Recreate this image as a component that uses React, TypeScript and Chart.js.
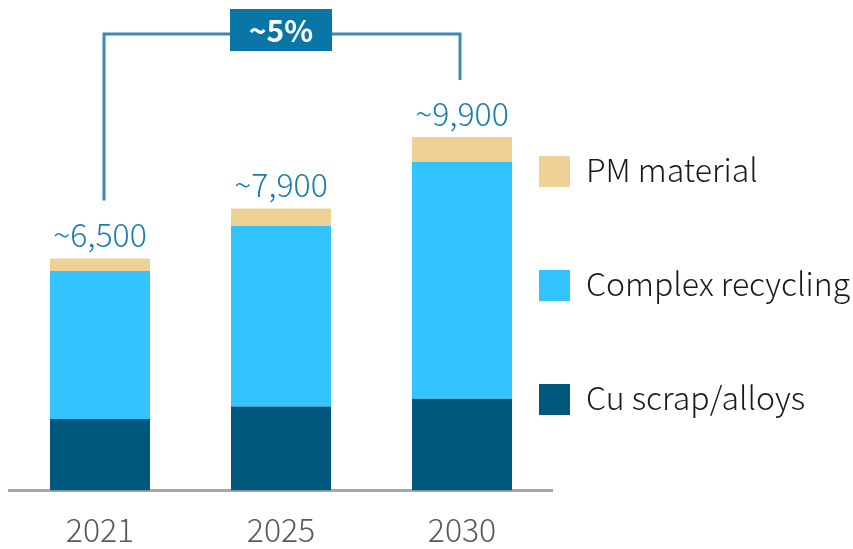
import React, { useEffect, useRef } from "react";
import { Chart, registerables } from "chart.js";

Chart.register(...registerables);

const categories = ["2021", "2025", "2030"];
const cuScrap = [2000, 2350, 2570];
const complexRecycling = [4150, 5060, 6630];
const pmMaterial = [350, 490, 700];
const totalLabels = ["~6,500", "~7,900", "~9,900"];
const cagrLabel = "~5%";

const seriesNames = ["Cu scrap/alloys", "Complex recycling", "PM material"];
const seriesColors = ["#00587C", "#33C3FF", "#EDD195"];

const FONT = '"Noto Sans CJK JP", "Noto Sans", sans-serif';

const overlayPlugin = {
  id: "overlay",
  afterDatasetsDraw(chart: any) {
    const ctx = chart.ctx as CanvasRenderingContext2D;
    const topMeta = chart.getDatasetMeta(2);
    const bars = topMeta.data;
    ctx.save();
    // totals
    ctx.font = `300 32px ${FONT}`;
    ctx.fillStyle = "#1A7DAC";
    ctx.textAlign = "center";
    ctx.textBaseline = "alphabetic";
    bars.forEach((b: any, i: number) => {
      ctx.fillText(totalLabels[i], b.x, b.y - 11);
    });
    // bracket
    const first = bars[0];
    const last = bars[bars.length - 1];
    const mid = bars[1];
    const lx = first.x + 4;
    const rx = last.x - 2;
    const topY = 34;
    ctx.strokeStyle = "#3E88B1";
    ctx.lineWidth = 3;
    ctx.beginPath();
    ctx.moveTo(lx, first.y - 58);
    ctx.lineTo(lx, topY);
    ctx.lineTo(rx, topY);
    ctx.lineTo(rx, last.y - 57);
    ctx.stroke();
    // box
    const bw = 102;
    const bh = 42;
    ctx.fillStyle = "#0A76A8";
    ctx.fillRect(mid.x - bw / 2, topY - 25, bw, bh);
    ctx.fillStyle = "#FFFFFF";
    ctx.font = `bold 30px ${FONT}`;
    ctx.textBaseline = "middle";
    ctx.fillText(cagrLabel, mid.x, topY - 25 + bh / 2 + 1);
    // legend
    const legendX = 539;
    const legendYs = [156, 270, 384];
    const order = [2, 1, 0];
    ctx.textAlign = "left";
    ctx.textBaseline = "alphabetic";
    ctx.font = `300 32px ${FONT}`;
    order.forEach((di, k) => {
      const y = legendYs[k];
      ctx.fillStyle = seriesColors[di];
      ctx.fillRect(legendX, y, 31, 31);
      ctx.fillStyle = "#1A1A1A";
      ctx.fillText(seriesNames[di], 586, y + 26);
    });
    ctx.restore();
  },
};

export default function App() {
  const ref = useRef<HTMLCanvasElement>(null);
  useEffect(() => {
    if (!ref.current) return;
    const chart = new Chart(ref.current, {
      type: "bar",
      data: {
        labels: categories,
        datasets: [
          { label: seriesNames[0], data: cuScrap, backgroundColor: seriesColors[0] },
          { label: seriesNames[1], data: complexRecycling, backgroundColor: seriesColors[1] },
          { label: seriesNames[2], data: pmMaterial, backgroundColor: seriesColors[2] },
        ],
      },
      options: {
        animation: false,
        responsive: false,
        maintainAspectRatio: false,
        layout: { padding: { left: 9.5, right: 300.5, top: 62, bottom: 0 } },
        datasets: {
          bar: { categoryPercentage: 1, barPercentage: 0.5525, borderWidth: 0 },
        },
        plugins: { legend: { display: false }, tooltip: { enabled: false } },
        scales: {
          x: {
            stacked: true,
            grid: { display: false, drawTicks: false },
            border: { display: true, color: "#A6A6A6", width: 3 },
            ticks: {
              color: "#595959",
              font: { family: FONT, size: 32, weight: "300", lineHeight: 0.7 },
              padding: 28,
            },
            afterFit: (scale: any) => {
              scale.height = 58.5;
            },
          },
          y: {
            stacked: true,
            display: false,
            min: 0,
            max: 12000,
          },
        },
      },
      plugins: [overlayPlugin],
    });
    return () => chart.destroy();
  }, []);
  return (
    <div style={{ position: "fixed", left: 0, top: 0, width: 853, height: 549, background: "#fff" }}>
      <canvas ref={ref} width={853} height={549} />
    </div>
  );
}
